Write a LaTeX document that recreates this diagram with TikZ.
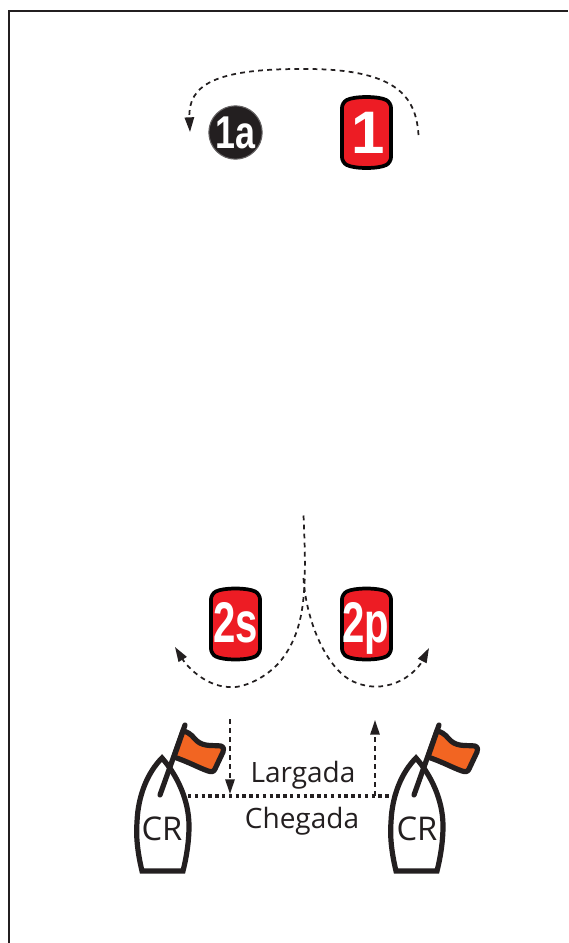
\documentclass[tikz,border=0pt]{standalone}
\usepackage{fontspec}
\setmainfont{Open Sans}
\newfontfamily\buoyfont{Liberation Sans}
\usetikzlibrary{arrows.meta}
\definecolor{ink}{HTML}{231F20}
\definecolor{buoyred}{HTML}{ED1C24}
\definecolor{flagorange}{HTML}{F26522}
\tikzset{
  x=0.75pt,y=-0.75pt,
  course/.style={draw=ink,line width=1.3pt,dash pattern=on 3.6pt off 3.2pt},
  courseend/.style={course,-{Triangle[length=11pt,width=7pt,fill=ink]}},
  startline/.style={draw=ink,line width=2.6pt,dash pattern=on 2.6pt off 2.5pt},
  hull/.style={draw=ink,line width=3.9pt,line join=miter,fill=white},
  mast/.style={draw=ink,line width=3.9pt,line cap=round},
  flag/.style={draw=ink,line width=3.9pt,line join=round,fill=flagorange},
  buoylabel/.style={text=white,font=\buoyfont\bfseries,inner sep=0pt},
  tag/.style={text=ink,font=\fontsize{21pt}{24pt}\selectfont,inner sep=0pt},
  crlabel/.style={text=ink,font=\fontsize{24.5pt}{26pt}\selectfont,inner sep=0pt},
}
\newcommand{\buoyshape}[2]{%
  \begin{scope}[shift={(#1,#2)}]
    \draw[draw=black,line width=2.8pt,fill=buoyred,rounded corners=4pt]
      (-24.5,-30) .. controls (-12,-36.5) and (12,-36.5) .. (24.5,-30)
      -- (24.5,30) .. controls (12,36.5) and (-12,36.5) .. (-24.5,30) -- cycle;
  \end{scope}}
\newcommand{\boatshape}[1]{%
  \begin{scope}[shift={(#1,0)}]
    \draw[hull] (142,871) .. controls (137,850) and (136,835) .. (137,822)
      .. controls (138,795) and (148,772) .. (162,758)
      .. controls (177,775) and (189,800) .. (189,826)
      .. controls (189,840) and (187,855) .. (183,871) -- cycle;
    \draw[mast] (185,725) -- (160,795);
    \draw[flag] (183,731) .. controls (192,733) and (193,738) .. (197,741)
      .. controls (204,747) and (213,745) .. (221,746)
      .. controls (224,747) and (224,750) .. (223,752)
      -- (215,769) .. controls (214,772) and (211,772) .. (208,771)
      .. controls (197,767) and (191,763) .. (174,757) -- cycle;
  \end{scope}}
\begin{document}
\begin{tikzpicture}
\useasboundingbox (0,0) rectangle (568,943);
\fill[white] (0,0) rectangle (568,943);
\draw[draw=ink,line width=1.5pt] (8.5,943) -- (8.5,10.5) -- (568,10.5);

% boats
\boatshape{0}
\boatshape{254}
\node[crlabel] (crl) at (162,829) {CR};
\node[crlabel] (crr) at (417,829) {CR};

% buoys
\buoyshape{366.5}{132.5}
\buoyshape{235.5}{624}
\buoyshape{366.5}{624}
\node[buoylabel] (b1) at (368,133) {\fontsize{45pt}{45pt}\selectfont 1};
\node[buoylabel] (b2s) at (235.5,622.5) {\fontsize{43pt}{43pt}\selectfont\scalebox{0.7}[1]{2s}};
\node[buoylabel] (b2p) at (366,628) {\fontsize{43pt}{43pt}\selectfont\scalebox{0.7}[1]{2p}};

\node[circle,fill=ink,draw=ink!70,line width=0.8pt,minimum size=40pt,inner sep=0pt] (b1a) at (235.5,132.5) {};
\node[buoylabel] at (b1a.center) {\fontsize{34.5pt}{34.5pt}\selectfont\scalebox{0.78}[1]{1a}};

% coordinates of course ends
\coordinate (s1) at (418.5,135);
\coordinate (e1) at (190,132);
\coordinate (gate) at (303.5,515.5);
\coordinate (ps) at (175,647);
\coordinate (pp) at (429,648);
\coordinate (up0) at (375,796);
\coordinate (up1) at (375,720);
\coordinate (dn0) at (230,719);
\coordinate (dn1) at (230,794);
\coordinate (la) at (188,796);
\coordinate (lb) at (392,796);

% courses
\draw[courseend] (s1) .. controls (416,95) and (395,68) .. (300,69)
  .. controls (215,69) and (188,85) .. (190,132);
\draw[courseend] (gate) .. controls (307,590) and (305,625) .. (285,655)
  .. controls (268,680) and (240,688) .. (232,687)
  .. controls (208,688) and (188,668) .. (ps);
\draw[courseend] (303.5,578) .. controls (306,620) and (325,665) .. (350,680)
  .. controls (385,698) and (415,675) .. (pp);
\draw[courseend] (dn0) -- (dn1);
\draw[courseend] (up0) -- (up1);

\draw[startline] (la) -- (lb);

\node[tag] (lg) at (303,775) {Largada};
\node[tag] (ch) at (302,821) {Chegada};
\end{tikzpicture}
\end{document}
